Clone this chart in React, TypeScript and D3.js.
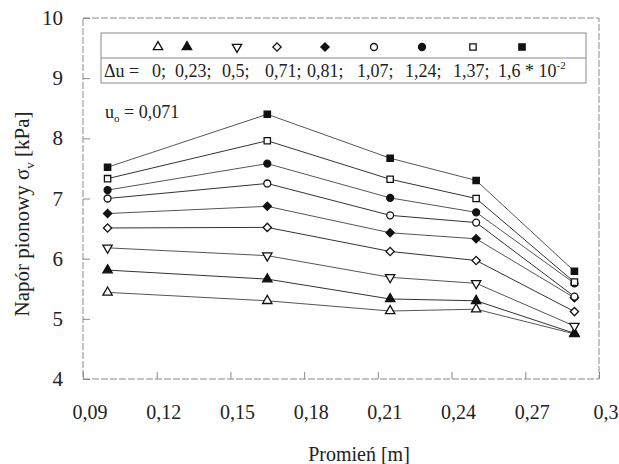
import * as d3 from 'd3';
import React, { useEffect, useRef } from 'react';

// promień [m] – measurement positions
const radius = [0.1, 0.165, 0.215, 0.25, 0.29];

// napór pionowy [kPa] for each Δu
const du0 = [5.44, 5.3, 5.13, 5.16, 4.75];
const du023 = [5.81, 5.66, 5.33, 5.3, 4.76];
const du05 = [6.18, 6.05, 5.69, 5.59, 4.88];
const du071 = [6.51, 6.52, 6.12, 5.97, 5.12];
const du081 = [6.75, 6.87, 6.43, 6.33, 5.35];
const du107 = [7.0, 7.25, 6.72, 6.6, 5.37];
const du124 = [7.14, 7.58, 7.01, 6.77, 5.59];
const du137 = [7.33, 7.96, 7.32, 7.0, 5.61];
const du160 = [7.52, 8.4, 7.67, 7.3, 5.79];

const legendLabels = ['0;', '0,23;', '0,5;', '0,71;', '0,81;', '1,07;', '1,24;', '1,37;', '1,6 * 10'];
const symbols = ['triUp', 'triUp', 'triDown', 'diamond', 'diamond', 'circle', 'circle', 'square', 'square'];
const filled = [false, true, false, false, true, false, true, false, true];
const seriesValues = [du0, du023, du05, du071, du081, du107, du124, du137, du160];

const xTicks = [0.09, 0.12, 0.15, 0.18, 0.21, 0.24, 0.27, 0.3];
const yTicks = [4, 5, 6, 7, 8, 9, 10];

const W = 619;
const H = 464;
const FONT = 'Liberation Serif, DejaVu Serif, serif';

function markerPath(type) {
    if (type === 'circle') return d3.symbol(d3.symbolCircle, 38)();
    if (type === 'square') return d3.symbol(d3.symbolSquare, 40)();
    if (type === 'diamond') return d3.symbol(d3.symbolSquare, 34)();
    return d3.symbol(d3.symbolTriangle, 38)();
}
function markerRotate(type) {
    if (type === 'diamond') return 45;
    if (type === 'triDown') return 180;
    return 0;
}

export default function App() {
    const svgRef = useRef(null);

    useEffect(() => {
        const svg = d3.select(svgRef.current);
        svg.selectAll('*').remove();

        const x = d3.scaleLinear().domain([0.09, 0.3]).range([83, 599]);
        const y = d3.scaleLinear().domain([4, 10]).range([379, 18]);
        const axisColor = '#8a8a8a';

        // plot frame
        svg.append('rect')
            .attr('x', x(0.09)).attr('y', y(10))
            .attr('width', x(0.3) - x(0.09)).attr('height', y(4) - y(10))
            .attr('fill', 'none').attr('stroke', axisColor).attr('stroke-width', 1)
            .attr('stroke-dasharray', '7 2');

        // y axis, ticks inside
        svg.append('g')
            .attr('transform', `translate(${x(0.09)},0)`)
            .call(d3.axisRight(y).tickValues(yTicks).tickSize(7).tickFormat(''))
            .call(g => g.select('.domain').remove())
            .selectAll('.tick line').attr('stroke', axisColor);

        svg.append('g')
            .selectAll('text')
            .data(yTicks)
            .enter()
            .append('text')
            .attr('x', 63)
            .attr('y', d => y(d) + 7)
            .attr('text-anchor', 'end')
            .style('font-family', FONT)
            .attr('font-size', 21)
            .attr('fill', '#222')
            .text(d => d);

        // x axis, ticks inside
        svg.append('g')
            .attr('transform', `translate(0,${y(4)})`)
            .call(d3.axisTop(x).tickValues(xTicks).tickSize(7).tickFormat(''))
            .call(g => g.select('.domain').remove())
            .selectAll('.tick line').attr('stroke', axisColor);

        svg.append('g')
            .selectAll('text')
            .data(xTicks)
            .enter()
            .append('text')
            .attr('x', d => x(d) + 7)
            .attr('y', 419)
            .attr('text-anchor', 'middle')
            .style('font-family', FONT)
            .attr('font-size', 20)
            .attr('fill', '#222')
            .text(d => String(d).replace('.', ','));

        // axis titles
        svg.append('text')
            .attr('x', 359).attr('y', 461)
            .attr('text-anchor', 'middle')
            .style('font-family', FONT).attr('font-size', 20).attr('fill', '#222')
            .text('Promień [m]');

        const yt = svg.append('text')
            .attr('transform', 'translate(29,214) rotate(-90)')
            .attr('text-anchor', 'middle')
            .style('font-family', FONT).attr('font-size', 21).attr('fill', '#222');
        yt.append('tspan').text('Napór pionowy σ');
        yt.append('tspan').attr('font-size', 13).attr('dy', 5).text('v');
        yt.append('tspan').attr('dy', -5).text(' [kPa]');

        // series lines and markers
        const line = d3.line()
            .x((d, i) => x(radius[i]))
            .y(d => y(d));

        seriesValues.forEach((vals, s) => {
            svg.append('path')
                .datum(vals)
                .attr('fill', 'none')
                .attr('stroke', s % 2 === 0 ? '#555' : '#333')
                .attr('stroke-width', 1)
                .attr('d', line);
        });

        seriesValues.forEach((vals, s) => {
            svg.append('g')
                .selectAll('path')
                .data(vals)
                .enter()
                .append('path')
                .attr('d', markerPath(symbols[s]))
                .attr('transform', (d, i) => `translate(${x(radius[i])},${y(d)}) rotate(${markerRotate(symbols[s])})`)
                .attr('fill', filled[s] ? '#111' : '#fff')
                .attr('stroke', '#111')
                .attr('stroke-width', 1.3);
        });

        // legend
        const lg = svg.append('g');
        lg.append('rect')
            .attr('x', 101).attr('y', 33).attr('width', 485).attr('height', 50)
            .attr('fill', '#fff').attr('stroke', axisColor).attr('stroke-width', 1);
        lg.append('line')
            .attr('x1', 101).attr('x2', 586).attr('y1', 58).attr('y2', 58)
            .attr('stroke', axisColor).attr('stroke-width', 1);

        const markerX = [158, 187, 237, 277, 325, 374, 422, 473, 522];
        const textX = [152, 175, 222, 265, 307, 357, 405, 453, 498];

        lg.selectAll('path')
            .data(symbols)
            .enter()
            .append('path')
            .attr('d', d => markerPath(d))
            .attr('transform', (d, i) => `translate(${markerX[i]},47) rotate(${markerRotate(d)})`)
            .attr('fill', (d, i) => filled[i] ? '#111' : '#fff')
            .attr('stroke', '#111')
            .attr('stroke-width', 1.3);

        const lt = lg.append('text')
            .attr('y', 77)
            .style('font-family', FONT).attr('font-size', 18).attr('fill', '#222');
        lt.append('tspan').attr('x', 104).text('Δu =');
        legendLabels.forEach((l, i) => {
            lt.append('tspan').attr('x', textX[i]).text(l);
        });
        lt.append('tspan').attr('font-size', 11).attr('dy', -8).text('-2');

        // u0 note
        const ut = svg.append('text')
            .attr('x', 105).attr('y', 118)
            .style('font-family', FONT).attr('font-size', 18).attr('fill', '#222');
        ut.append('tspan').text('u');
        ut.append('tspan').attr('font-size', 11).attr('dy', 4).text('o');
        ut.append('tspan').attr('dy', -4).text(' = 0,071');
    }, []);

    return (
        <div style={{ position: 'fixed', left: 0, top: 0, background: '#fff' }}>
            <svg ref={svgRef} width={W} height={H} style={{ display: 'block' }} />
        </div>
    );
}
